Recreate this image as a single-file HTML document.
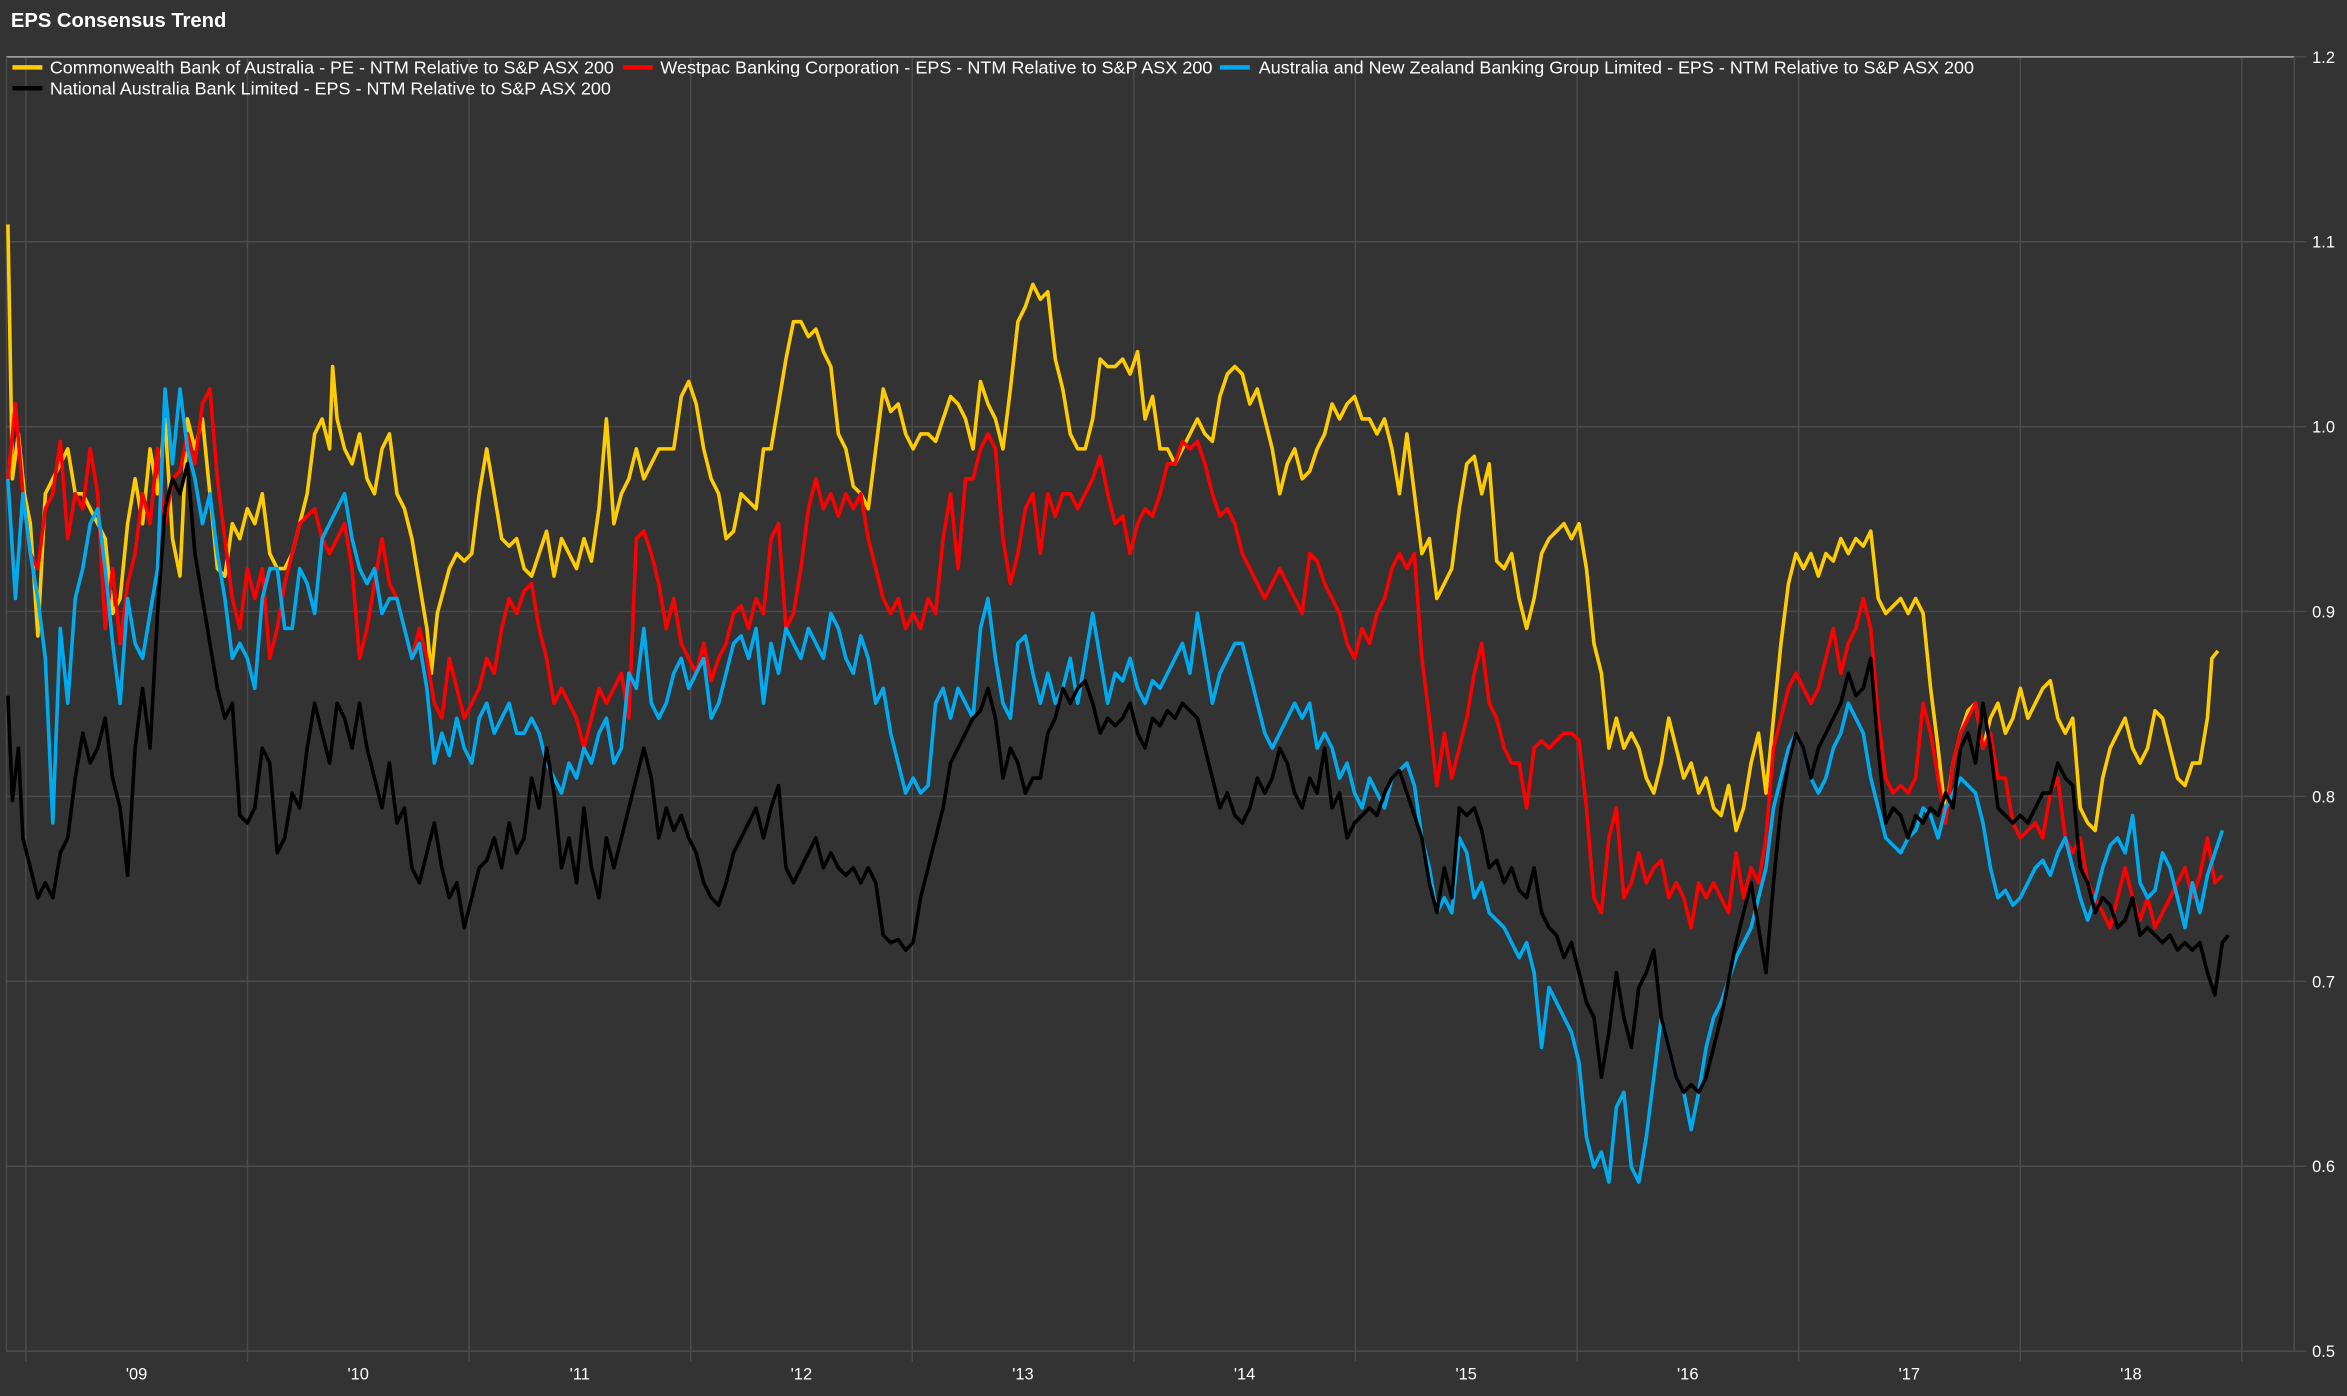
<!DOCTYPE html>
<html><head><meta charset="utf-8"><style>
html,body{margin:0;padding:0;background:#333333;}
svg{display:block;}
text{font-family:"Liberation Sans",Arial,sans-serif;fill:#ffffff;}
</style></head><body>
<svg id="c" width="2347" height="1396" viewBox="0 0 1568 933" xmlns="http://www.w3.org/2000/svg">
<rect x="0" y="0" width="1568" height="933" fill="#333333"/>
<text x="7" y="18" font-size="13.5" font-weight="bold">EPS Consensus Trend</text>
<g id="grid" stroke="#4b4b4b" stroke-width="1"></g>
<line x1="4" y1="38" x2="1533" y2="38" stroke="#9a9a9a" stroke-width="1.2"/>
<line x1="4" y1="38" x2="4" y2="903" stroke="#4b4b4b" stroke-width="1"/>
<line x1="1533" y1="38" x2="1533" y2="903" stroke="#4b4b4b" stroke-width="1"/>
<line x1="4" y1="903" x2="1533" y2="903" stroke="#4b4b4b" stroke-width="1"/>
<g id="labels" font-size="11"></g>
<g id="series" fill="none" stroke-width="2.4" stroke-linejoin="round"></g>
<g font-size="11.5">
<line x1="8" y1="45" x2="28" y2="45" stroke="#ffcc00" stroke-width="3"/>
<text x="33" y="49" textLength="377" lengthAdjust="spacingAndGlyphs">Commonwealth Bank of Australia - PE - NTM Relative to S&amp;P ASX 200</text>
<line x1="416" y1="45" x2="436" y2="45" stroke="#ff0000" stroke-width="3"/>
<text x="441" y="49" textLength="369" lengthAdjust="spacingAndGlyphs">Westpac Banking Corporation - EPS - NTM Relative to S&amp;P ASX 200</text>
<line x1="815" y1="45" x2="835" y2="45" stroke="#00aaee" stroke-width="3"/>
<text x="841" y="49" textLength="478" lengthAdjust="spacingAndGlyphs">Australia and New Zealand Banking Group Limited - EPS - NTM Relative to S&amp;P ASX 200</text>
<line x1="8" y1="59" x2="28" y2="59" stroke="#000000" stroke-width="3"/>
<text x="33" y="63" textLength="375" lengthAdjust="spacingAndGlyphs">National Australia Bank Limited - EPS - NTM Relative to S&amp;P ASX 200</text>
</g>
</svg>
<script>
var NS="http://www.w3.org/2000/svg";
function el(n,a,p){var e=document.createElementNS(NS,n);for(var k in a)e.setAttribute(k,a[k]);p.appendChild(e);return e;}
var g=document.getElementById('grid'),lb=document.getElementById('labels');
var vals=['1.2','1.1','1.0','0.9','0.8','0.7','0.6','0.5'];
for(var i=0;i<8;i++){var y=38+i*123.57;el('line',{x1:4,y1:y,x2:1541,y2:y},g);
var t=el('text',{x:1545,y:y+4},lb);t.textContent=vals[i];}
var yrs=["'09","'10","'11","'12","'13","'14","'15","'16","'17","'18"];
for(var k=0;k<11;k++){var x=17+k*148.1;el('line',{x1:x,y1:38,x2:x,y2:910},g);
if(k<10){var t=el('text',{x:x+74,y:922,'text-anchor':'middle'},lb);t.textContent=yrs[k];}}
function mk(arr,col){var s='';for(var i=0;i<arr.length;i+=2){s+=arr[i]+','+arr[i+1]+' ';}
el('polyline',{points:s,stroke:col},document.getElementById('series'));}
var Y=[5,150,8,320,12,290,16,330,20,350,25,425,30,330,35,320,40,310,45,300,50,330,55,330,60,340,65,350,70,360,75,410,80,400,85,350,90,320,95,350,100,300,105,330,110,280,115,360,120,385,125,280,130,300,135,280,140,330,145,380,150,385,155,350,160,360,165,340,170,350,175,330,180,370,185,380,190,380,195,370,200,350,205,330,210,290,215,280,220,300,222,245,225,280,230,300,235,310,240,290,245,320,250,330,255,300,260,290,265,330,270,340,275,360,280,390,285,420,288,450,292,410,300,380,305,370,310,375,315,370,320,330,325,300,330,330,335,360,340,365,345,360,350,380,355,385,360,370,365,355,370,385,375,360,380,370,385,380,390,360,395,375,400,340,405,280,410,350,415,330,420,320,425,300,430,320,435,310,440,300,445,300,450,300,455,265,460,255,465,270,470,300,475,320,480,330,485,360,490,355,495,330,500,335,505,340,510,300,515,300,520,270,525,240,530,215,535,215,540,225,545,220,550,235,555,245,560,290,565,300,570,325,575,330,580,340,585,300,590,260,595,275,600,270,605,290,610,300,615,290,620,290,625,295,630,280,635,265,640,270,645,280,650,300,655,255,660,270,665,280,670,300,675,260,680,215,685,205,690,190,695,200,700,195,705,240,710,260,715,290,720,300,725,300,730,280,735,240,740,245,745,245,750,240,755,250,760,235,765,280,770,265,775,300,780,300,785,310,790,300,795,290,800,280,805,290,810,295,815,265,820,250,825,245,830,250,835,270,840,260,845,280,850,300,855,330,860,310,865,300,870,320,875,315,880,300,885,290,890,270,895,280,900,270,905,265,910,280,915,280,920,290,925,280,930,300,935,330,940,290,945,330,950,370,955,360,960,400,965,390,970,380,975,340,980,310,985,305,990,330,995,310,1000,375,1005,380,1010,370,1015,400,1020,420,1025,400,1030,370,1035,360,1040,355,1045,350,1050,360,1055,350,1060,380,1065,430,1070,450,1075,500,1080,480,1085,500,1090,490,1095,500,1100,520,1105,530,1110,510,1115,480,1120,500,1125,520,1130,510,1135,530,1140,520,1145,540,1150,545,1155,525,1160,555,1165,540,1170,510,1175,490,1180,530,1185,480,1190,430,1195,390,1200,370,1205,380,1210,370,1215,385,1220,370,1225,375,1230,360,1235,370,1240,360,1245,365,1250,355,1255,400,1260,410,1265,405,1270,400,1275,410,1280,400,1285,410,1290,460,1295,500,1300,545,1305,510,1310,490,1315,475,1320,470,1325,500,1330,480,1335,470,1340,490,1345,480,1350,460,1355,480,1360,470,1365,460,1370,455,1375,480,1380,490,1385,480,1390,540,1395,550,1400,555,1405,520,1410,500,1415,490,1420,480,1425,500,1430,510,1435,500,1440,475,1445,480,1450,500,1455,520,1460,525,1465,510,1470,510,1475,480,1478,440,1482,435];
var R=[5,320,10,270,15,330,20,370,25,380,30,340,35,330,40,295,45,360,50,330,55,340,60,300,65,330,70,420,75,380,80,430,85,390,90,370,95,330,100,350,105,300,110,350,115,320,120,315,125,290,130,310,135,270,140,260,145,320,150,360,155,400,160,420,165,380,170,400,175,380,180,440,185,420,190,390,195,370,200,350,205,345,210,340,215,360,220,370,225,360,230,350,235,380,240,440,245,420,250,390,255,360,260,390,265,400,270,420,275,440,280,420,285,440,290,470,295,480,300,440,305,460,310,480,315,470,320,460,325,440,330,450,335,420,340,400,345,410,350,395,355,390,360,420,365,440,370,470,375,460,380,470,385,480,390,500,395,480,400,460,405,470,410,460,415,450,420,480,425,360,430,355,435,370,440,390,445,420,450,400,455,430,460,440,465,450,470,430,475,455,480,440,485,430,490,410,495,405,500,420,505,400,510,410,515,360,520,350,525,420,530,410,535,380,540,340,545,320,550,340,555,330,560,345,565,330,570,340,575,330,580,360,585,380,590,400,595,410,600,400,605,420,610,410,615,420,620,400,625,410,630,360,635,330,640,380,645,320,650,320,655,300,660,290,665,300,670,360,675,390,680,370,685,340,690,330,695,370,700,330,705,345,710,330,715,330,720,340,725,330,730,320,735,305,740,330,745,350,750,345,755,370,760,350,765,340,770,345,775,330,780,310,785,310,790,295,795,300,800,295,805,310,810,330,815,345,820,340,825,350,830,370,835,380,840,390,845,400,850,390,855,380,860,390,865,400,870,410,875,370,880,375,885,390,890,400,895,410,900,430,905,440,910,420,915,430,920,410,925,400,930,380,935,370,940,380,945,370,950,440,955,480,960,525,965,490,970,520,975,500,980,480,985,450,990,430,995,470,1000,480,1005,500,1010,510,1015,510,1020,540,1025,500,1030,495,1035,500,1040,495,1045,490,1050,490,1055,495,1060,540,1065,600,1070,610,1075,560,1080,540,1085,600,1090,590,1095,570,1100,590,1105,580,1110,575,1115,600,1120,590,1125,600,1130,620,1135,590,1140,600,1145,590,1150,600,1155,610,1160,570,1165,600,1170,580,1175,590,1180,560,1185,500,1190,480,1195,460,1200,450,1205,460,1210,470,1215,460,1220,440,1225,420,1230,450,1235,430,1240,420,1245,400,1250,420,1255,480,1260,520,1265,530,1270,525,1275,530,1280,520,1285,470,1290,490,1295,520,1300,550,1305,510,1310,490,1315,480,1320,470,1325,500,1330,490,1335,520,1340,520,1345,550,1350,560,1355,555,1360,550,1365,560,1370,530,1375,520,1380,560,1385,570,1390,560,1395,590,1400,600,1405,610,1410,620,1415,600,1420,580,1425,600,1430,615,1435,600,1440,620,1445,610,1450,600,1455,590,1460,580,1465,600,1470,585,1475,560,1480,590,1485,585];
var B=[5,320,10,400,15,330,20,370,25,400,30,440,35,550,40,420,45,470,50,400,55,380,60,350,65,340,70,380,75,430,80,470,85,400,90,430,95,440,100,410,105,380,110,260,115,310,120,260,125,300,130,320,135,350,140,330,145,370,150,400,155,440,160,430,165,440,170,460,175,400,180,380,185,380,190,420,195,420,200,380,205,390,210,410,215,360,220,350,225,340,230,330,235,360,240,380,245,390,250,380,255,410,260,400,265,400,270,420,275,440,280,430,285,460,290,510,295,490,300,505,305,480,310,500,315,510,320,480,325,470,330,490,335,480,340,470,345,490,350,490,355,480,360,490,365,510,370,520,375,530,380,510,385,520,390,500,395,510,400,490,405,480,410,510,415,500,420,450,425,460,430,420,435,470,440,480,445,470,450,450,455,440,460,460,465,450,470,440,475,480,480,470,485,450,490,430,495,425,500,440,505,420,510,470,515,430,520,450,525,420,530,430,535,440,540,420,545,430,550,440,555,410,560,420,565,440,570,450,575,425,580,440,585,470,590,460,595,490,600,510,605,530,610,520,615,530,620,525,625,470,630,460,635,480,640,460,645,470,650,480,655,420,660,400,665,440,670,470,675,480,680,430,685,425,690,450,695,470,700,450,705,470,710,460,715,440,720,470,725,440,730,410,735,440,740,470,745,450,750,455,755,440,760,460,765,470,770,455,775,460,780,450,785,440,790,430,795,450,800,410,805,440,810,470,815,450,820,440,825,430,830,430,835,450,840,470,845,490,850,500,855,490,860,480,865,470,870,480,875,470,880,500,885,490,890,500,895,520,900,510,905,530,910,540,915,520,920,530,925,540,930,520,935,515,940,510,945,525,950,560,955,580,960,610,965,600,970,610,975,560,980,570,985,600,990,590,995,610,1000,615,1005,620,1010,630,1015,640,1020,630,1025,650,1030,700,1035,660,1040,670,1045,680,1050,690,1055,710,1060,760,1065,780,1070,770,1075,790,1080,740,1085,730,1090,780,1095,790,1100,760,1105,720,1110,680,1115,700,1120,720,1125,730,1130,755,1135,730,1140,700,1145,680,1150,670,1155,655,1160,640,1165,630,1170,620,1175,600,1180,580,1185,540,1190,520,1195,500,1200,490,1205,500,1210,520,1215,530,1220,520,1225,500,1230,490,1235,470,1240,480,1245,490,1250,520,1255,540,1260,560,1265,565,1270,570,1275,560,1280,555,1285,540,1290,545,1295,560,1300,540,1305,530,1310,520,1315,525,1320,530,1325,550,1330,580,1335,600,1340,595,1345,605,1350,600,1355,590,1360,580,1365,575,1370,585,1375,570,1380,560,1385,580,1390,600,1395,615,1400,600,1405,580,1410,565,1415,560,1420,570,1425,545,1430,590,1435,600,1440,595,1445,570,1450,580,1455,600,1460,620,1465,590,1470,610,1475,585,1480,570,1485,555];
var K=[5,465,8,535,12,500,15,560,20,580,25,600,30,590,35,600,40,570,45,560,50,520,55,490,60,510,65,500,70,480,75,520,80,540,85,585,90,500,95,460,100,500,105,410,110,340,115,320,120,330,125,310,130,370,135,400,140,430,145,460,150,480,155,470,160,545,165,550,170,540,175,500,180,510,185,570,190,560,195,530,200,540,205,500,210,470,215,490,220,510,225,470,230,480,235,500,240,470,245,500,250,520,255,540,260,510,265,550,270,540,275,580,280,590,285,570,290,550,295,580,300,600,305,590,310,620,315,600,320,580,325,575,330,560,335,580,340,550,345,570,350,560,355,520,360,540,365,500,370,530,375,580,380,560,385,590,390,540,395,580,400,600,405,560,410,580,415,560,420,540,425,520,430,500,435,520,440,560,445,540,450,555,455,545,460,560,465,570,470,590,475,600,480,605,485,590,490,570,495,560,500,550,505,540,510,560,515,540,520,525,525,580,530,590,535,580,540,570,545,560,550,580,555,570,560,580,565,585,570,580,575,590,580,580,585,590,590,625,595,630,600,628,605,635,610,630,615,600,620,580,625,560,630,540,635,510,640,500,645,490,650,480,655,475,660,460,665,480,670,520,675,500,680,510,685,530,690,520,695,520,700,490,705,480,710,460,715,470,720,460,725,455,730,470,735,490,740,480,745,485,750,480,755,470,760,490,765,500,770,480,775,485,780,475,785,480,790,470,795,475,800,480,805,500,810,520,815,540,820,530,825,545,830,550,835,540,840,520,845,530,850,520,855,500,860,510,865,530,870,540,875,520,880,530,885,500,890,540,895,530,900,560,905,550,910,545,915,540,920,545,925,530,930,520,935,515,940,530,945,545,950,560,955,590,960,610,965,580,970,600,975,540,980,545,985,540,990,555,995,580,1000,575,1005,590,1010,580,1015,595,1020,600,1025,580,1030,610,1035,620,1040,625,1045,640,1050,630,1055,650,1060,670,1065,680,1070,720,1075,690,1080,650,1085,680,1090,700,1095,660,1100,650,1105,635,1110,680,1115,700,1120,720,1125,730,1130,725,1135,730,1140,720,1145,700,1150,680,1155,655,1160,630,1165,610,1170,590,1175,620,1180,650,1185,590,1190,540,1195,510,1200,490,1205,500,1210,520,1215,500,1220,490,1225,480,1230,470,1235,450,1240,465,1245,460,1250,440,1255,500,1260,550,1265,540,1270,545,1275,560,1280,545,1285,550,1290,540,1295,545,1300,530,1305,540,1310,500,1315,490,1320,510,1325,470,1330,500,1335,540,1340,545,1345,550,1350,545,1355,550,1360,540,1365,530,1370,530,1375,510,1380,520,1385,525,1390,580,1395,590,1400,610,1405,600,1410,605,1415,620,1420,615,1425,600,1430,625,1435,620,1440,625,1445,630,1450,625,1455,635,1460,630,1465,635,1470,630,1475,650,1480,665,1485,630,1489,625];
mk(Y,'#ffcc00');mk(R,'#ff0000');mk(B,'#00aaee');mk(K,'#000000');
</script>
</body></html>
